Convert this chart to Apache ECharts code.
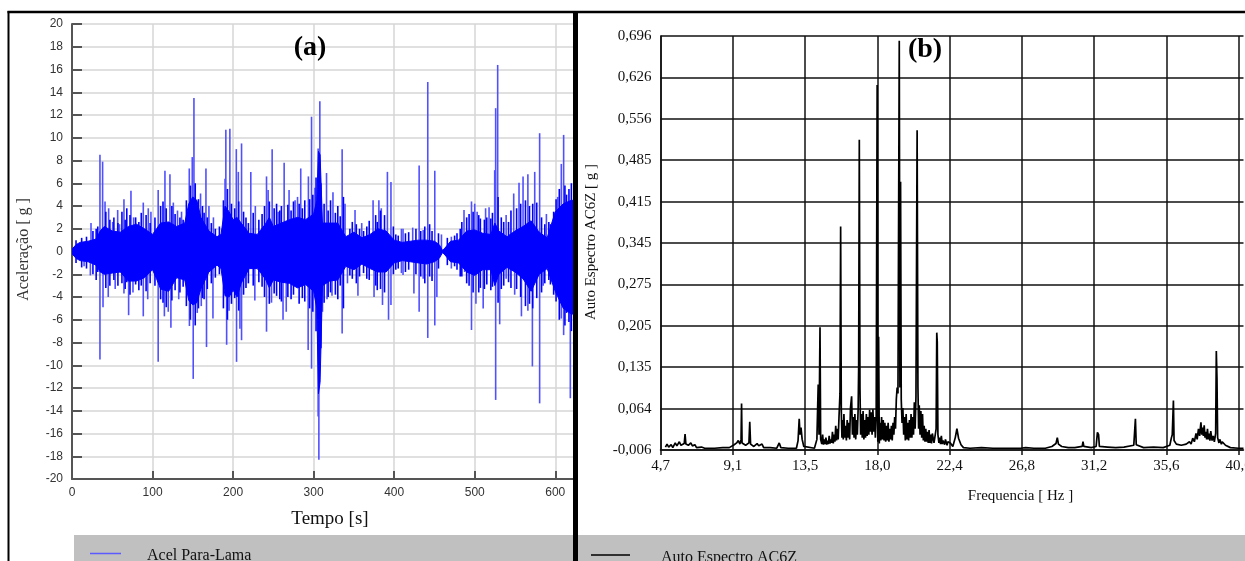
<!DOCTYPE html>
<html>
<head>
<meta charset="utf-8">
<script src="https://cdn.jsdelivr.net/npm/echarts@6/dist/echarts.min.js"></script>
<style>html,body{margin:0;padding:0;background:#fff}#c{width:1245px;height:561px}</style>
</head>
<body>
<div id="c"></div>
<script>
// ---- Panel (a): acceleration time signal ----
const timeTicks = [0, 100, 200, 300, 400, 500, 600];
const accelTicks = [-20, -18, -16, -14, -12, -10, -8, -6, -4, -2, 0, 2, 4, 6, 8, 10, 12, 14, 16, 18, 20];
// dense core band of the signal (time [s], upper, lower)
const bandT = [0,5,10,20,30,35,40,50,60,70,80,90,100,105,110,120,130,140,145,150,155,160,170,180,185,190,195,200,205,210,220,230,240,245,250,260,270,280,290,300,304,306,308,311,320,330,340,350,360,370,380,390,400,410,420,430,440,450,456,460,463,470,480,490,500,510,520,525,530,540,550,560,570,580,590,600,610,620,625];
const bandHi = [0.2,0.6,0.8,0.9,1.1,1.8,2.2,1.8,1.7,2.2,2.4,2.0,1.5,2.0,2.5,2.6,2.2,2.5,4.2,4.8,4.5,3.0,1.8,1.3,1.5,4.0,3.5,2.8,3.0,2.5,1.6,1.5,2.4,3.0,2.2,2.5,2.8,3.0,2.8,3.3,4.5,8.8,8.5,2.5,2.5,2.5,1.3,1.7,1.2,1.5,2.0,1.8,1.0,0.8,0.9,1.0,1.0,0.9,0.6,0.1,0.3,0.9,1.0,1.8,1.9,1.6,1.5,2.5,1.8,1.3,1.8,2.2,2.7,1.7,1.2,3.5,4.2,4.5,4.5];
const bandLo = [-0.2,-0.6,-0.8,-0.9,-1.2,-1.8,-2.0,-1.9,-1.8,-2.6,-2.6,-2.3,-1.6,-2.4,-3.3,-3.5,-2.3,-2.5,-4.3,-4.7,-4.5,-3.3,-1.8,-1.2,-1.5,-3.9,-4.0,-3.4,-4.0,-2.8,-1.5,-1.5,-2.4,-3.2,-2.5,-2.7,-2.8,-3.2,-2.9,-3.5,-5.0,-12.5,-11.5,-3.0,-2.6,-2.5,-1.3,-1.6,-1.1,-1.5,-1.8,-1.8,-1.0,-0.8,-0.9,-1.0,-1.1,-0.9,-0.6,-0.1,-0.3,-0.9,-1.0,-1.8,-2.1,-1.6,-1.6,-3.0,-2.0,-1.4,-1.8,-2.4,-3.5,-2.0,-1.5,-3.5,-5.0,-5.5,-5.5];
// dense short bursts inside the core [time s, max g, min g]
const coreBursts = [[5,1.0,-1.0],[12,1.2,-1.4],[18,1.3,-1.5],[26,1.8,-2.0],[30,2.0,-2.5],[32,2.2,-1.8],[42,3.5,-3.2],[47,2.8,-3.0],[52,3.0,-2.5],[57,2.5,-3.0],[62,3.5,-2.8],[66,2.8,-3.3],[68,3.8,-2.7],[72,3.2,-3.8],[79,3.0,-2.9],[83,2.6,-3.4],[86,3.4,-3.0],[92,3.2,-3.5],[97,2.5,-2.8],[103,3.0,-3.0],[110,4.0,-4.2],[113,4.4,-4.5],[117,3.8,-4.9],[124,4.0,-4.3],[128,3.3,-3.4],[134,3.0,-3.6],[138,2.8,-3.1],[142,4.5,-4.8],[147,5.8,-6.0],[153,6.0,-6.5],[157,4.6,-5.0],[162,4.0,-4.1],[164,3.4,-4.2],[168,3.0,-3.3],[173,2.5,-2.8],[178,2.0,-2.3],[183,2.2,-2.0],[188,4.5,-5.0],[193,5.5,-6.0],[198,4.2,-4.6],[202,3.8,-4.1],[207,4.4,-5.2],[213,3.5,-3.8],[216,3.0,-3.2],[219,2.5,-2.8],[225,3.4,-3.0],[232,2.8,-2.7],[236,3.3,-3.1],[239,4.0,-4.0],[245,4.4,-4.6],[251,3.8,-3.7],[254,4.2,-3.9],[258,3.6,-4.2],[260,4.0,-4.4],[268,4.1,-4.0],[272,3.6,-4.2],[275,4.4,-3.8],[282,4.2,-4.6],[286,3.8,-4.1],[289,4.5,-4.4],[295,4.6,-5.0],[299,5.0,-5.3],[303,6.5,-7.0],[309,6.0,-8.5],[313,4.2,-4.5],[318,3.6,-4.0],[321,4.5,-3.6],[327,3.4,-3.8],[330,4.0,-4.2],[333,3.1,-3.0],[337,4.8,-5.0],[345,2.0,-2.1],[348,2.6,-2.4],[353,2.4,-2.8],[357,2.0,-2.2],[362,1.8,-1.9],[366,2.2,-2.4],[369,2.7,-2.5],[377,3.2,-3.0],[379,2.6,-3.4],[383,3.6,-3.3],[388,3.2,-3.6],[399,2.2,-2.0],[402,1.5,-1.6],[405,1.4,-1.5],[414,1.6,-1.8],[418,1.7,-1.6],[427,2.0,-2.0],[433,1.8,-2.2],[438,2.2,-2.8],[444,2.4,-2.2],[447,1.8,-2.6],[455,1.6,-1.5],[466,1.2,-1.2],[475,1.4,-1.3],[478,1.6,-1.6],[482,2.0,-2.2],[484,2.6,-2.2],[490,3.0,-2.8],[493,3.3,-3.0],[498,3.5,-3.6],[505,3.2,-3.6],[507,2.9,-3.2],[512,2.8,-3.3],[515,3.0,-2.9],[520,2.9,-3.4],[522,3.4,-3.1],[529,4.8,-4.5],[533,3.0,-3.3],[536,2.6,-3.0],[542,2.6,-2.7],[545,3.6,-3.2],[552,3.8,-3.3],[557,4.2,-4.0],[563,4.5,-4.8],[568,4.0,-4.6],[572,4.2,-5.0],[577,4.3,-4.1],[583,3.0,-3.6],[587,2.4,-2.8],[592,2.6,-2.5],[594,2.4,-2.9],[598,3.5,-3.8],[601,4.6,-4.4],[605,5.5,-6.0],[612,5.8,-6.5],[614,5.0,-5.4],[617,5.5,-6.2],[620,6.0,-7.0]];
// individual peaks [time s, acceleration g]
const accelPeaks = [[15,-1.3],[22.8,-2.1],[23.6,2.5],[34.7,8.5],[34.7,-9.5],[38,7.9],[38.5,-4.9],[41,4.4],[45,-4],[45.5,3.8],[50.5,2.6],[53.6,-3.3],[56.7,3.65],[59,2.4],[64.5,4.6],[64.5,-3.7],[70.3,-5.6],[73.2,5.35],[75.7,-3.6],[76.5,3],[88.5,4.3],[88.5,-5.7],[94,-4.2],[94.7,3.8],[98,3.5],[107,5.4],[107,-9.7],[114.7,-5.7],[115.4,7.1],[119.5,-5.3],[121.6,6.8],[122.8,-6.7],[125.8,4.3],[131,3.6],[132.5,-4.2],[136,3.5],[145.6,7.3],[145.8,-6.55],[149.3,8.3],[150.5,-11.2],[151.4,13.5],[155.5,-5.4],[159.6,5.1],[160.5,-4.8],[166.3,7.3],[167,-8.4],[170,4],[175,-5.9],[175.6,3],[190,6.4],[191,10.7],[192,-8.2],[195,-5.2],[196,10.8],[204,9.0],[204.3,-9.7],[206.5,7],[208.5,-6.8],[210.5,9.5],[210.5,-7.8],[222,7.0],[227,-4.3],[227.6,4],[241.5,6.6],[241.5,-7.05],[243.5,5.4],[247.7,-4.5],[248.5,9.0],[256,3.5],[262,-6.0],[263.4,7.8],[266,-5.3],[269.5,5.4],[277,4.5],[280,4.8],[284,7.3],[293.2,-8.65],[293.5,6.6],[297.4,11.85],[297.4,-10.3],[301.6,5.6],[305.6,9.05],[305.6,-14.5],[306.5,-18.3],[307.7,13.2],[311,-5.3],[316,6.9],[316.6,-4.2],[322.8,-3.9],[324,5.2],[335.4,9.0],[335.4,-7.2],[339,4.2],[342,-2.8],[351.4,3.65],[355,-3.9],[359.7,2.5],[373.8,4.5],[375,-4.0],[381,4.5],[384,3.8],[385.5,-4.7],[391.6,7.0],[393,-6.0],[396,6.1],[396,-4.7],[409,2],[409,-1.9],[411,2.0],[411,-2.07],[423,2.1],[424.5,-3.7],[431,7.55],[431,-5.3],[436,1.9],[436,-2.4],[441.7,14.9],[441.7,-7.6],[450.4,7.1],[450.4,-6.5],[453,-4],[458.7,1.5],[471,1.3],[471,-1.5],[486.7,3.65],[487.5,-1.8],[496,4.4],[496,-6.9],[500,4.2],[501.5,-4.6],[503,3.5],[510.5,-5],[513.5,3.8],[517.8,3.9],[524.8,7.15],[526,12.6],[526,-13.05],[528.5,16.4],[531,-6.4],[539,3.2],[539,-2.4],[548.4,5.1],[549.6,-3.8],[555,6.05],[558,-5.7],[560,6.6],[566,6.8],[566,-5.2],[571.6,-10.1],[574.5,7.0],[580.6,10.4],[580.6,-13.35],[585,-3],[589,3.3],[596,-2.3],[603,4.8],[607.5,7.7],[607.5,-5.9],[610.4,10.25],[610.4,-7.35],[615.5,-5.1],[618.7,-12.9]];

// ---- Panel (b): auto spectrum ----
const freqTickLabels = ['4,7','9,1','13,5','18,0','22,4','26,8','31,2','35,6','40,0'];
const specTickLabels = ['-0,006','0,064','0,135','0,205','0,275','0,345','0,415','0,485','0,556','0,626','0,696'];
// [frequency Hz, amplitude g]
const spectrum = [[5.0,-0.001],[5.1,0.004],[5.2,-0.001],[5.35,0.003],[5.45,-0.002],[5.6,0.006],[5.7,0.001],[5.85,0.008],[5.95,0.002],[6.15,0.005],[6.2,0.021],[6.25,0.004],[6.4,0.002],[6.55,0.006],[6.65,0.001],[6.8,0.003],[6.9,-0.002],[7.2,-0.001],[7.4,-0.003],[8.0,-0.003],[8.5,-0.002],[8.9,-0.002],[9.0,0.001],[9.2,0.003],[9.35,0.006],[9.45,0.01],[9.55,0.004],[9.62,0.012],[9.65,0.073],[9.68,0.006],[9.8,0.004],[9.9,0.002],[10.1,0.006],[10.15,0.042],[10.2,0.004],[10.4,0.0],[10.6,0.005],[10.7,0.001],[10.9,0.004],[11.0,-0.002],[11.4,-0.002],[11.8,-0.003],[11.95,0.006],[12.05,-0.002],[12.5,-0.003],[13.0,-0.003],[13.1,0.01],[13.17,0.047],[13.22,0.02],[13.28,0.032],[13.35,0.012],[13.45,0.0],[13.55,-0.003],[14.1,-0.003],[14.25,0.012],[14.33,0.105],[14.38,0.02],[14.44,0.202],[14.48,0.012],[14.55,0.004],[14.6,0.02],[14.65,0.003],[14.7,0.012],[14.75,0.004],[14.8,0.015],[14.85,0.003],[14.9,0.01],[14.95,0.004],[15.0,0.018],[15.05,0.005],[15.1,0.012],[15.15,0.006],[15.2,0.025],[15.25,0.005],[15.3,0.02],[15.35,0.008],[15.4,0.035],[15.45,0.01],[15.5,0.03],[15.55,0.012],[15.6,0.05],[15.66,0.09],[15.7,0.373],[15.74,0.06],[15.78,0.015],[15.82,0.045],[15.86,0.012],[15.9,0.055],[15.95,0.015],[16.0,0.035],[16.05,0.01],[16.1,0.045],[16.15,0.015],[16.2,0.04],[16.25,0.012],[16.3,0.065],[16.37,0.085],[16.42,0.02],[16.47,0.05],[16.52,0.015],[16.57,0.055],[16.62,0.012],[16.67,0.045],[16.72,0.02],[16.77,0.065],[16.8,0.133],[16.84,0.52],[16.88,0.1],[16.92,0.02],[16.97,0.055],[17.02,0.015],[17.07,0.06],[17.12,0.012],[17.17,0.045],[17.22,0.015],[17.27,0.055],[17.32,0.018],[17.37,0.05],[17.42,0.02],[17.47,0.062],[17.52,0.025],[17.57,0.058],[17.62,0.02],[17.67,0.063],[17.72,0.025],[17.77,0.05],[17.82,0.015],[17.87,0.048],[17.93,0.613],[17.97,0.008],[18.02,0.186],[18.06,0.005],[18.1,0.04],[18.15,0.01],[18.2,0.05],[18.25,0.012],[18.3,0.045],[18.35,0.01],[18.4,0.04],[18.45,0.008],[18.5,0.035],[18.55,0.01],[18.6,0.04],[18.65,0.008],[18.7,0.03],[18.75,0.012],[18.8,0.035],[18.85,0.01],[18.9,0.04],[18.95,0.02],[19.0,0.05],[19.05,0.03],[19.1,0.08],[19.15,0.1],[19.2,0.09],[19.28,0.688],[19.32,0.1],[19.36,0.449],[19.4,0.08],[19.45,0.04],[19.5,0.065],[19.55,0.02],[19.6,0.05],[19.65,0.01],[19.7,0.055],[19.75,0.012],[19.8,0.04],[19.85,0.01],[19.9,0.045],[19.95,0.015],[20.0,0.055],[20.05,0.015],[20.1,0.05],[20.15,0.02],[20.2,0.075],[20.25,0.03],[20.3,0.085],[20.37,0.536],[20.42,0.1],[20.46,0.03],[20.5,0.07],[20.55,0.02],[20.6,0.06],[20.65,0.015],[20.7,0.055],[20.75,0.01],[20.8,0.035],[20.85,0.008],[20.9,0.03],[20.95,0.008],[21.0,0.025],[21.05,0.006],[21.1,0.028],[21.15,0.006],[21.2,0.02],[21.25,0.005],[21.3,0.022],[21.4,0.006],[21.45,0.015],[21.53,0.03],[21.57,0.193],[21.6,0.177],[21.64,0.02],[21.7,0.006],[21.75,0.015],[21.8,0.004],[21.85,0.018],[21.9,0.004],[21.95,0.01],[22.05,0.003],[22.1,0.012],[22.2,0.002],[22.25,0.008],[22.4,0.006],[22.55,0.0],[22.7,0.015],[22.8,0.03],[22.9,0.014],[23.05,0.003],[23.2,-0.002],[23.6,-0.003],[24.3,-0.002],[25.0,-0.003],[25.1,0.0],[25.2,-0.003],[26.0,-0.003],[26.7,-0.003],[27.0,-0.002],[27.5,-0.003],[28.2,-0.003],[28.6,0.0],[28.85,0.005],[28.93,0.015],[29.0,0.004],[29.2,0.0],[29.6,-0.002],[30.0,-0.002],[30.45,0.0],[30.5,0.008],[30.55,0.0],[31.0,-0.002],[31.3,0.0],[31.38,0.024],[31.45,0.02],[31.5,0.0],[32.0,-0.001],[32.5,-0.002],[33.0,-0.001],[33.6,0.002],[33.7,0.047],[33.75,0.003],[34.2,-0.002],[34.8,-0.001],[35.4,-0.002],[35.8,0.002],[35.9,0.015],[35.95,0.02],[36.02,0.078],[36.06,0.01],[36.2,0.004],[36.5,0.002],[36.8,0.004],[37.0,0.008],[37.1,0.004],[37.2,0.014],[37.3,0.008],[37.4,0.022],[37.47,0.012],[37.55,0.03],[37.62,0.018],[37.7,0.041],[37.75,0.02],[37.8,0.032],[37.85,0.018],[37.9,0.036],[37.95,0.015],[38.0,0.025],[38.05,0.012],[38.1,0.03],[38.15,0.012],[38.2,0.022],[38.25,0.01],[38.3,0.026],[38.38,0.01],[38.45,0.018],[38.52,0.008],[38.6,0.022],[38.64,0.162],[38.68,0.117],[38.72,0.015],[38.8,0.006],[38.85,0.012],[38.95,0.004],[39.0,0.008],[39.2,0.002],[39.5,-0.002],[40.0,-0.003],[40.3,-0.003]];

const FMIN = 4.7, FSTEP = (40.0 - 4.7) / 8;
const VMIN = -0.006, VSTEP = (0.696 - (-0.006)) / 10;
function idxLabel(v, min, step, arr) {
  const k = (v - min) / step, i = Math.round(k);
  if (Math.abs(k - i) > 0.01 || i < 0 || i >= arr.length) return '';
  return arr[i];
}
const serif = '"Liberation Serif", "DejaVu Serif", serif';
const sans = '"Liberation Sans", Arial, sans-serif';

const chart = echarts.init(document.getElementById('c'), null, {renderer: 'canvas'});
chart.setOption({
  animation: false,
  backgroundColor: '#fff',
  grid: [
    {left: 72, top: 24, right: 669.6, bottom: 82, containLabel: false, outerBoundsMode: 'none'},
    {left: 660.5, top: 36, right: 1.5, bottom: 111, containLabel: false, outerBoundsMode: 'none'}
  ],
  xAxis: [
    {gridIndex: 0, type: 'value', min: 0, max: 625, interval: 100,
      axisLine: {onZero: false, lineStyle: {color: '#555', width: 2}},
      axisTick: {inside: true, length: 8, lineStyle: {color: '#555', width: 2}},
      axisLabel: {margin: 8, fontFamily: sans, fontSize: 12, color: '#333',
        formatter: v => timeTicks.indexOf(v) >= 0 ? String(v) : ''},
      splitLine: {show: true, showMaxLine: false, lineStyle: {color: '#d6d6d6', width: 1.5}}},
    {gridIndex: 1, type: 'value', min: FMIN, max: 40.3, interval: FSTEP,
      axisLine: {onZero: false, lineStyle: {color: '#111', width: 1.5}},
      axisTick: {show: true, length: 5, lineStyle: {color: '#111', width: 1.5}},
      axisLabel: {margin: 9, fontFamily: serif, fontSize: 15, color: '#111', showMaxLabel: false, hideOverlap: false,
        formatter: v => idxLabel(v, FMIN, FSTEP, freqTickLabels)},
      splitLine: {show: true, showMaxLine: false, lineStyle: {color: '#111', width: 1.5}}}
  ],
  yAxis: [
    {gridIndex: 0, type: 'value', min: -20, max: 20, interval: 2,
      axisLine: {show: true, onZero: false, lineStyle: {color: '#555', width: 2}},
      axisTick: {show: true, inside: true, length: 10, lineStyle: {color: '#555', width: 2}},
      axisLabel: {margin: 9, fontFamily: sans, fontSize: 12, color: '#333',
        formatter: v => accelTicks.indexOf(v) >= 0 ? String(v) : ''},
      splitLine: {show: true, lineStyle: {color: '#d6d6d6', width: 1.5}}},
    {gridIndex: 1, type: 'value', min: VMIN, max: 0.696, interval: VSTEP,
      axisLine: {show: true, onZero: false, lineStyle: {color: '#111', width: 1.5}},
      axisTick: {show: false},
      axisLabel: {margin: 9, fontFamily: serif, fontSize: 15, color: '#111',
        formatter: v => idxLabel(v, VMIN, VSTEP, specTickLabels)},
      splitLine: {show: true, lineStyle: {color: '#111', width: 1.5}}}
  ],
  series: [
    {name: 'Acel Para-Lama peaks', type: 'custom', xAxisIndex: 0, yAxisIndex: 0, z: 2, clip: true,
      data: accelPeaks,
      renderItem: function (params, api) {
        const t = api.value(0), v = api.value(1);
        const p0 = api.coord([t, 0]), p1 = api.coord([t, v]);
        return {type: 'line', shape: {x1: p0[0], y1: p0[1], x2: p1[0], y2: p1[1]},
          style: {stroke: '#5050ff', lineWidth: 1.6}};
      }},
    {name: 'Acel Para-Lama bursts', type: 'custom', xAxisIndex: 0, yAxisIndex: 0, z: 3, clip: true,
      data: coreBursts,
      renderItem: function (params, api) {
        const t = api.value(0);
        const p0 = api.coord([t, api.value(2)]), p1 = api.coord([t, api.value(1)]);
        return {type: 'line', shape: {x1: p0[0], y1: p0[1], x2: p1[0], y2: p1[1]},
          style: {stroke: '#0000ff', lineWidth: 1.6}};
      }},
    {name: 'Acel Para-Lama', type: 'custom', xAxisIndex: 0, yAxisIndex: 0, z: 4, clip: true,
      data: [[bandT[0], bandHi[0]]],
      renderItem: function (params, api) {
        const pts = [];
        for (let i = 0; i < bandT.length; i++) pts.push(api.coord([bandT[i], bandHi[i]]));
        for (let i = bandT.length - 1; i >= 0; i--) pts.push(api.coord([bandT[i], bandLo[i]]));
        return {type: 'polygon', shape: {points: pts}, style: {fill: '#0000ff', stroke: '#0000ff', lineWidth: 1}};
      }},
    {name: 'Auto Espectro AC6Z', type: 'line', xAxisIndex: 1, yAxisIndex: 1, z: 3,
      data: spectrum, showSymbol: false, symbol: 'none', clip: true,
      lineStyle: {color: '#000', width: 1.7}}
  ],
  graphic: [
    {type: 'rect', z: 100, shape: {x: 74, y: 535, width: 499, height: 26}, style: {fill: '#c0c0c0'}},
    {type: 'rect', z: 100, shape: {x: 578, y: 535, width: 667, height: 26}, style: {fill: '#c0c0c0'}},
    {type: 'line', z: 101, shape: {x1: 90, y1: 553.5, x2: 121, y2: 553.5}, style: {stroke: '#5a5aff', lineWidth: 1.5}},
    {type: 'text', z: 101, x: 147, y: 556, style: {text: 'Acel Para-Lama', font: '16px ' + serif, fill: '#111', align: 'left', verticalAlign: 'middle'}},
    {type: 'line', z: 101, shape: {x1: 591, y1: 555, x2: 630, y2: 555}, style: {stroke: '#000', lineWidth: 1.5}},
    {type: 'text', z: 101, x: 661, y: 557.5, style: {text: 'Auto Espectro AC6Z', font: '16px ' + serif, fill: '#111', align: 'left', verticalAlign: 'middle'}},
    {type: 'text', z: 101, x: 310, y: 48, style: {text: '(a)', font: 'bold 28px ' + serif, fill: '#000', align: 'center', verticalAlign: 'middle'}},
    {type: 'text', z: 101, x: 925, y: 50, style: {text: '(b)', font: 'bold 28px ' + serif, fill: '#000', align: 'center', verticalAlign: 'middle'}},
    {type: 'text', z: 101, x: 330, y: 519, style: {text: 'Tempo [s]', font: '19px ' + serif, fill: '#111', align: 'center', verticalAlign: 'middle'}},
    {type: 'text', z: 101, x: 1020.5, y: 496, style: {text: 'Frequencia [ Hz ]', font: '15px ' + serif, fill: '#111', align: 'center', verticalAlign: 'middle'}},
    {type: 'text', z: 101, x: 24, y: 249.5, rotation: Math.PI / 2, style: {text: 'Aceleração [ g ]', font: '16px ' + serif, fill: '#333', align: 'center', verticalAlign: 'middle'}},
    {type: 'text', z: 101, x: 591.5, y: 242, rotation: Math.PI / 2, style: {text: 'Auto Espectro AC6Z [ g ]', font: '15px ' + serif, fill: '#111', align: 'center', verticalAlign: 'middle'}},
    {type: 'line', z: 102, shape: {x1: 7.5, y1: 12, x2: 1245, y2: 12}, style: {stroke: '#000', lineWidth: 2.5}},
    {type: 'line', z: 102, shape: {x1: 8.5, y1: 11, x2: 8.5, y2: 561}, style: {stroke: '#000', lineWidth: 2}},
    {type: 'rect', z: 102, shape: {x: 573, y: 11, width: 5, height: 550}, style: {fill: '#000'}}
  ]
});
</script>
</body>
</html>
